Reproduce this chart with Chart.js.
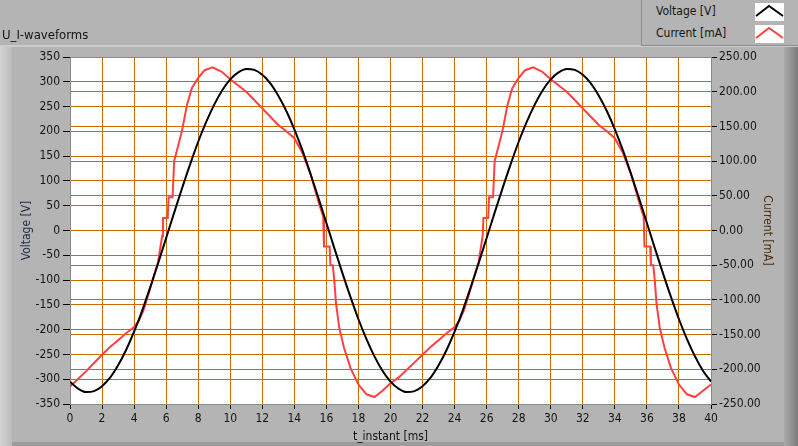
<!DOCTYPE html>
<html lang="en">
<head>
<meta charset="utf-8">
<title>U_I-waveforms</title>
<script src="https://cdn.jsdelivr.net/npm/chart.js@4.4.1/dist/chart.umd.min.js"></script>
<style>
  * { margin:0; padding:0; box-sizing:border-box }
  body { width:798px; height:446px; overflow:hidden; background:#b4b4b4; font-family:'DejaVu Sans Condensed', 'Noto Sans', sans-serif; }
  #wrap { position:relative; width:798px; height:446px; }
  #chart { position:absolute; left:0; top:0; }
  #title { position:absolute; left:2px; top:27px; font-size:13px; color:#141414; }
  #legend {
    position:absolute; left:641px; top:0; width:157px; height:46px;
    border-left:1px solid #8e8e8e; border-bottom:1px solid #8e8e8e;
    background:#b4b4b4;
  }
  .entry { position:absolute; left:14px; font-size:12px; color:#141414; }
  .swatch { position:absolute; left:113px; width:29px; height:18px; background:#fff; }
</style>
</head>
<body>
<div id="wrap">
  <canvas id="chart" width="798" height="446"></canvas>
  <div id="title">U_I-waveforms</div>
  <div id="legend">
    <div class="entry" style="top:4px">Voltage [V]</div>
    <svg class="swatch" style="top:3px" viewBox="0 0 29 18"><polyline points="1,13 14,3 28,13" fill="none" stroke="#000" stroke-width="2"/></svg>
    <div class="entry" style="top:26px">Current [mA]</div>
    <svg class="swatch" style="top:25px" viewBox="0 0 29 18"><polyline points="1,13 14,3 28,13" fill="none" stroke="#ff4040" stroke-width="2"/></svg>
  </div>
</div>
<script>
// voltage [V], sampled every 0.5 ms
const voltTime = [0,0.5,1,1.5,2,2.5,3,3.5,4,4.5,5,5.5,6,6.5,7,7.5,8,8.5,9,9.5,
  10,10.5,11,11.5,12,12.5,13,13.5,14,14.5,15,15.5,16,16.5,17,17.5,18,18.5,19,19.5,
  20,20.5,21,21.5,22,22.5,23,23.5,24,24.5,25,25.5,26,26.5,27,27.5,28,28.5,29,29.5,
  30,30.5,31,31.5,32,32.5,33,33.5,34,34.5,35,35.5,36,36.5,37,37.5,38,38.5,39,39.5,40];
const voltage = [-305,-319,-326,-324,-314,-297,-272,-241,-204,-162,-115,-66,-15,36,86,134,179,219,254,283,
  305,319,326,324,314,297,272,241,204,162,115,66,15,-36,-86,-134,-179,-219,-254,-283,
  -305,-319,-326,-324,-314,-297,-272,-241,-204,-162,-115,-66,-15,36,86,134,179,219,254,283,
  305,319,326,324,314,297,272,241,204,162,115,66,15,-36,-86,-134,-179,-219,-254,-283,-305];

// current [mA]
const currTime = [0,0.5,1,1.5,2,2.5,3,3.5,4,4.3,4.6,5,5.5,5.75,5.8,6.1,6.15,6.4,6.5,6.75,7,7.3,7.6,8,8.4,8.9,9.45,
  10,10.5,11,11.5,12,12.5,13,13.5,14,14.5,15,15.5,15.8,15.85,16.2,16.25,16.4,16.5,16.6,16.8,17.1,17.5,18,18.5,19,19.5,
  20,20.5,21,21.5,22,22.5,23,23.5,24,24.3,24.6,25,25.5,25.75,25.8,26.1,26.15,26.4,26.5,26.75,27,27.3,27.6,28,28.4,28.9,29.45,
  30,30.5,31,31.5,32,32.5,33,33.5,34,34.5,35,35.5,35.8,35.85,36.2,36.25,36.4,36.5,36.6,36.8,37.1,37.5,38,38.5,39,39.5,40];
const current = [-225,-214,-203,-191,-179,-168,-158,-148,-139,-130,-114,-84,-45,-8,18,18,48,48,100,122,145,181,205,220,231,235,229,
  218,209,200,188,176,164,152,143,133,112,82,42,20,-23,-23,-50,-50,-74,-105,-140,-169,-198,-222,-236,-240,-231,
  -220,-212,-201,-190,-179,-168,-158,-148,-139,-130,-114,-84,-45,-8,18,18,48,48,100,122,145,181,205,220,231,235,229,
  218,209,200,188,176,164,152,143,133,112,82,42,20,-23,-23,-50,-50,-74,-105,-140,-169,-198,-222,-236,-240,-231,-222];

const GRID = '#cc6c00';
const FRAME = '#8a8a8a';
const TXT = '#141414';
const tickFont = { family: "'DejaVu Sans Condensed', 'Noto Sans', sans-serif", size: 12 };

const panelBg = {
  id: 'panelBg',
  beforeDraw(chart) {
    const { ctx, chartArea: a } = chart;
    ctx.save();
    ctx.fillStyle = '#b4b4b4';
    ctx.fillRect(0, 0, 798, 446);
    // lower panel bevels
    ctx.fillStyle = '#cbcbcb';
    ctx.fillRect(0, 45, 798, 2);
    let g = ctx.createLinearGradient(0, 0, 12, 0);
    g.addColorStop(0, '#d4d4d4'); g.addColorStop(1, '#bcbcbc');
    ctx.fillStyle = g;
    ctx.fillRect(0, 47, 12, 399);
    g = ctx.createLinearGradient(784, 0, 798, 0);
    g.addColorStop(0, '#ababab'); g.addColorStop(1, '#7c7c7c');
    ctx.fillStyle = g;
    ctx.fillRect(784, 47, 14, 399);
    ctx.fillStyle = '#9c9c9c';
    ctx.fillRect(12, 442, 772, 4);
    // plot area
    ctx.fillStyle = '#fff';
    ctx.fillRect(a.left, a.top, a.right - a.left, a.bottom - a.top);
    ctx.restore();
  }
};

const edgeColor = (lo, hi) => c => (c.tick && (c.tick.value === lo || c.tick.value === hi)) ? FRAME : GRID;

new Chart(document.getElementById('chart'), {
  type: 'line',
  data: {
    datasets: [
      {
        label: 'Voltage [V]',
        data: voltTime.map((t, i) => ({ x: t, y: voltage[i] })),
        borderColor: '#000',
        borderWidth: 2,
        pointRadius: 0,
        cubicInterpolationMode: 'monotone',
        yAxisID: 'y'
      },
      {
        label: 'Current [mA]',
        data: currTime.map((t, i) => ({ x: t, y: current[i] })),
        borderColor: '#ff4040',
        borderWidth: 2,
        pointRadius: 0,
        tension: 0,
        yAxisID: 'y1'
      }
    ]
  },
  options: {
    responsive: false,
    animation: false,
    events: [],
    layout: { padding: { top: 57, left: 0, right: 0, bottom: 0 } },
    plugins: { legend: { display: false }, tooltip: { enabled: false } },
    scales: {
      x: {
        type: 'linear', min: 0, max: 40,
        afterFit: s => { s.height = 42; },
        ticks: { stepSize: 2, color: TXT, font: tickFont, padding: 3, maxRotation: 0 },
        grid: { color: edgeColor(0, 40), tickColor: '#000', tickLength: 5, lineWidth: 1 },
        border: { color: FRAME },
        title: { display: true, text: 't_instant [ms]', color: TXT, font: tickFont, padding: { top: 0, bottom: 2 } }
      },
      y: {
        position: 'left', min: -350, max: 350,
        afterFit: s => { s.width = 70; },
        ticks: { stepSize: 50, color: TXT, font: tickFont, padding: 3 },
        grid: { color: edgeColor(-350, 350), tickColor: '#000', tickLength: 7 },
        border: { color: FRAME },
        title: { display: true, text: 'Voltage [V]', color: '#1c2a48', font: tickFont, padding: { top: 20, bottom: 0 } }
      },
      y1: {
        position: 'right', min: -250, max: 250,
        afterFit: s => { s.width = 87; },
        ticks: { stepSize: 50, color: TXT, font: tickFont, padding: 2, callback: v => v.toFixed(2) },
        grid: { color: edgeColor(-250, 250), tickColor: '#000', tickLength: 6 },
        border: { color: FRAME },
        title: { display: true, text: 'Current [mA]', color: '#4a3010', font: tickFont, padding: { top: 24, bottom: 0 } }
      }
    }
  },
  plugins: [panelBg]
});
</script>
</body>
</html>
